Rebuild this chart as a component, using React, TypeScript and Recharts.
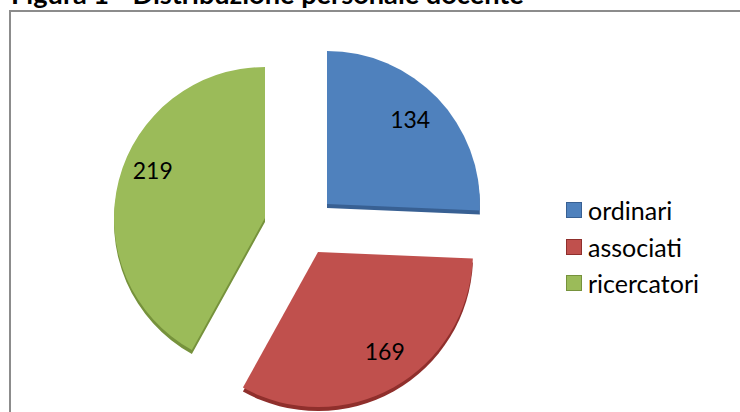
import { PieChart, Pie, Cell, Legend } from "recharts";

const categories = ["ordinari", "associati", "ricercatori"];
const values = [134, 169, 219];
const colors = ["#4f81bd", "#c0504d", "#9bbb59"];
const sideColors = ["#386093", "#8f2f2c", "#76923c"];

// each slice is its own Pie because the slices are pulled apart
const total = values.reduce((a, b) => a + b, 0);
const startAngle = 90;
const radii = [153, 155, 151];
const centers = [
    { cx: 327, cy: 204 },
    { cx: 318, cy: 252 },
    { cx: 265, cy: 218 },
];
const depth = 4;
const labelOffsets = [
    { dx: -2, dy: -3 },
    { dx: 9, dy: -4 },
    { dx: 2, dy: -18 },
];

const slices = categories.map((name, i) => {
    const before = values.slice(0, i).reduce((a, b) => a + b, 0);
    return {
        name,
        value: values[i],
        start: startAngle - (before / total) * 360,
        end: startAngle - ((before + values[i]) / total) * 360,
    };
});

const font = "Lato, 'Open Sans', sans-serif";

function sliceLabel(i: number) {
    return (p: any) => {
        const a = (p.midAngle * Math.PI) / 180;
        const x = p.cx + 118 * Math.cos(a) + labelOffsets[i].dx;
        const y = p.cy - 118 * Math.sin(a) + labelOffsets[i].dy;
        return (
            <text x={x} y={y} fill="#000" fontSize={23} fontFamily={font} textAnchor="middle" dominantBaseline="central">
                {p.value}
            </text>
        );
    };
}

function LegendBox() {
    return (
        <div style={{ fontFamily: font, fontSize: 25, lineHeight: "36.5px", color: "#000" }}>
            {categories.map((name, i) => (
                <div key={name} style={{ display: "flex", alignItems: "center", height: 36.5, whiteSpace: "nowrap" }}>
                    <span
                        style={{
                            display: "inline-block",
                            width: 16,
                            height: 16,
                            boxSizing: "border-box",
                            marginRight: 6,
                            background: colors[i],
                            border: "1px solid " + sideColors[i],
                        }}
                    />
                    {name}
                </div>
            ))}
        </div>
    );
}

export default function App() {
    return (
        <div style={{ position: "absolute", left: 0, top: 0, width: 740, height: 412, overflow: "hidden", background: "#fff" }}>
            <div
                style={{
                    position: "absolute",
                    left: 11,
                    top: -22,
                    fontFamily: font,
                    fontWeight: 700,
                    fontSize: 27.2,
                    lineHeight: "32px",
                    whiteSpace: "nowrap",
                    color: "#000",
                }}
            >
                Figura 1 - Distribuzione personale docente
            </div>
            <div style={{ position: "absolute", left: 9, top: 10, width: 740, height: 420, border: "2px solid #8c8c8c", boxSizing: "border-box" }} />
            <div style={{ position: "absolute", left: 0, top: 0 }}>
                <PieChart width={740} height={412} margin={{ top: 0, right: 0, bottom: 0, left: 0 }}>
                    {slices.map((s, i) => (
                        <Pie
                            key={"side-" + s.name}
                            data={[s]}
                            dataKey="value"
                            nameKey="name"
                            cx={centers[i].cx}
                            cy={centers[i].cy + depth}
                            outerRadius={radii[i]}
                            startAngle={s.start}
                            endAngle={s.end}
                            stroke="none"
                            legendType="none"
                            isAnimationActive={false}
                        >
                            <Cell fill={sideColors[i]} />
                        </Pie>
                    ))}
                    {slices.map((s, i) => (
                        <Pie
                            key={s.name}
                            data={[s]}
                            dataKey="value"
                            nameKey="name"
                            cx={centers[i].cx}
                            cy={centers[i].cy}
                            outerRadius={radii[i]}
                            startAngle={s.start}
                            endAngle={s.end}
                            stroke="none"
                            legendType="square"
                            label={sliceLabel(i)}
                            labelLine={false}
                            isAnimationActive={false}
                        >
                            <Cell fill={colors[i]} />
                        </Pie>
                    ))}
                    <Legend
                        layout="vertical"
                        align="right"
                        verticalAlign="top"
                        content={() => <LegendBox />}
                        wrapperStyle={{ left: 566, right: "auto", top: 192, width: 170 }}
                    />
                </PieChart>
            </div>
        </div>
    );
}
